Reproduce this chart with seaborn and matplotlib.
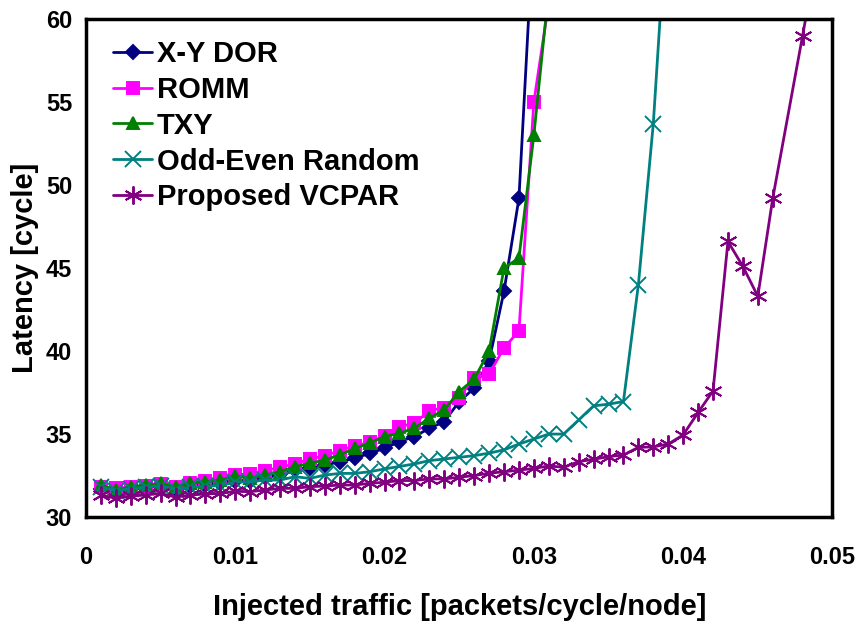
import numpy as np
import pandas as pd
import matplotlib
matplotlib.use("Agg")
import matplotlib.pyplot as plt
import seaborn as sns

# Injected traffic (packets/cycle/node) per series
X_XY = [i / 1000 for i in range(1, 31)]
X_ROMM = [i / 1000 for i in range(1, 32)]
X_TXY = [i / 1000 for i in range(1, 32)]
X_OE = [i / 1000 for i in range(1, 40)]
X_VCPAR = [i / 1000 for i in range(1, 47)] + [0.048, 0.049]

# Latency (cycles)
LAT_XY = [31.7, 31.6, 31.7, 31.8, 31.85, 31.7, 31.85, 31.95, 32.05, 32.2,
          32.2, 32.4, 32.6, 32.84, 32.94, 33.14, 33.34, 33.54, 33.84, 34.14,
          34.55, 34.85, 35.35, 35.75, 36.96, 37.76, 39.4, 43.6, 49.2, 66.0]
LAT_ROMM = [31.83, 31.75, 31.8, 31.9, 32.0, 31.8, 32.05, 32.2, 32.35, 32.55,
            32.6, 32.8, 33.0, 33.2, 33.5, 33.7, 34.0, 34.3, 34.5, 34.9,
            35.45, 35.65, 36.4, 36.6, 37.2, 38.4, 38.6, 40.2, 41.2, 55.0, 61.0]
LAT_TXY = [31.93, 31.63, 31.83, 31.93, 32.03, 31.83, 32.03, 32.13, 32.23, 32.48,
           32.33, 32.53, 32.73, 33.04, 33.24, 33.44, 33.74, 34.14, 34.45, 34.85,
           35.05, 35.35, 35.96, 36.46, 37.56, 38.3, 40.0, 45.0, 45.6, 53.0, 61.8]
LAT_OE = [31.8, 31.6, 31.7, 31.8, 31.9, 31.65, 31.8, 31.85, 31.9, 32.1,
          32.13, 32.23, 32.23, 32.43, 32.33, 32.53, 32.63, 32.63, 32.73, 32.9,
          33.05, 33.2, 33.4, 33.5, 33.6, 33.7, 33.85, 34.05, 34.4, 34.7,
          35.0, 35.0, 35.85, 36.7, 36.8, 36.96, 44.0, 53.7, 67.7]
LAT_VCPAR = [31.33, 31.13, 31.27, 31.33, 31.43, 31.2, 31.33, 31.39, 31.43, 31.55,
             31.53, 31.63, 31.73, 31.73, 31.83, 31.87, 31.93, 31.93, 32.03, 32.1,
             32.2, 32.2, 32.3, 32.3, 32.4, 32.5, 32.64, 32.73, 32.83, 32.93,
             33.08, 33.0, 33.34, 33.48, 33.64, 33.74, 34.2, 34.23, 34.4, 34.95,
             36.3, 37.6, 46.6, 45.1, 43.3, 49.2, 59.0, 64.0]

LABELS = ["X-Y DOR", "ROMM", "TXY", "Odd-Even Random", "Proposed VCPAR"]
COLORS = ["#000080", "#FF00FF", "#008000", "#008080", "#800080"]
MARKERS = ["D", "s", "^", "x", (6, 2, 0)]
MSIZES = [7, 9, 9, 11, 13]

X_TICKS = [0, 0.01, 0.02, 0.03, 0.04, 0.05]
Y_TICKS = [30, 35, 40, 45, 50, 55, 60]

sns.set_theme(style="white")
plt.rcParams["font.family"] = ["Liberation Sans", "DejaVu Sans"]
plt.rcParams["font.weight"] = "bold"
plt.rcParams["text.color"] = "black"
plt.rcParams["axes.labelcolor"] = "black"
plt.rcParams["xtick.color"] = "black"
plt.rcParams["ytick.color"] = "black"

fig = plt.figure(figsize=(8.64, 6.26), dpi=100)
ax = fig.add_axes([0.0995, 0.174, 0.864, 0.7956])

series = [(X_XY, LAT_XY), (X_ROMM, LAT_ROMM), (X_TXY, LAT_TXY),
          (X_OE, LAT_OE), (X_VCPAR, LAT_VCPAR)]

for (xs, ys), label, color, marker, ms in zip(series, LABELS, COLORS, MARKERS, MSIZES):
    df = pd.DataFrame({"traffic": xs, "latency": ys})
    sns.lineplot(data=df, x="traffic", y="latency", ax=ax, color=color,
                 marker=marker, markersize=ms, markeredgecolor=color,
                 markerfacecolor=color, markeredgewidth=1.4,
                 linewidth=2, label=label)

ax.set_xlim(0, 0.05)
ax.set_ylim(30, 60)
ax.set_xticks(X_TICKS)
ax.set_xticklabels([f"{v:g}" for v in X_TICKS])
ax.set_yticks(Y_TICKS)

ax.tick_params(axis="both", direction="in", length=5, width=2, colors="black",
               labelsize=17)
ax.tick_params(axis="x", pad=21)
ax.tick_params(axis="y", pad=10)
for lab in ax.get_xticklabels() + ax.get_yticklabels():
    lab.set_fontweight("bold")
    lab.set_color("black")

for sp in ax.spines.values():
    sp.set_color("black")
    sp.set_linewidth(2.5)

ax.set_xlabel("Injected traffic [packets/cycle/node]", fontsize=21,
              fontweight="bold", labelpad=17, color="black")
ax.set_ylabel("Latency [cycle]", fontsize=21, fontweight="bold", labelpad=5,
              color="black")

leg = ax.legend(loc="upper left", bbox_to_anchor=(0.036, 0.958), frameon=False,
                borderaxespad=0, borderpad=0, handlelength=1.35,
                handletextpad=0.15, labelspacing=0.27,
                prop={"size": 21, "weight": "bold"})
for t in leg.get_texts():
    t.set_color("black")

fig.savefig("out.png", dpi=100)
